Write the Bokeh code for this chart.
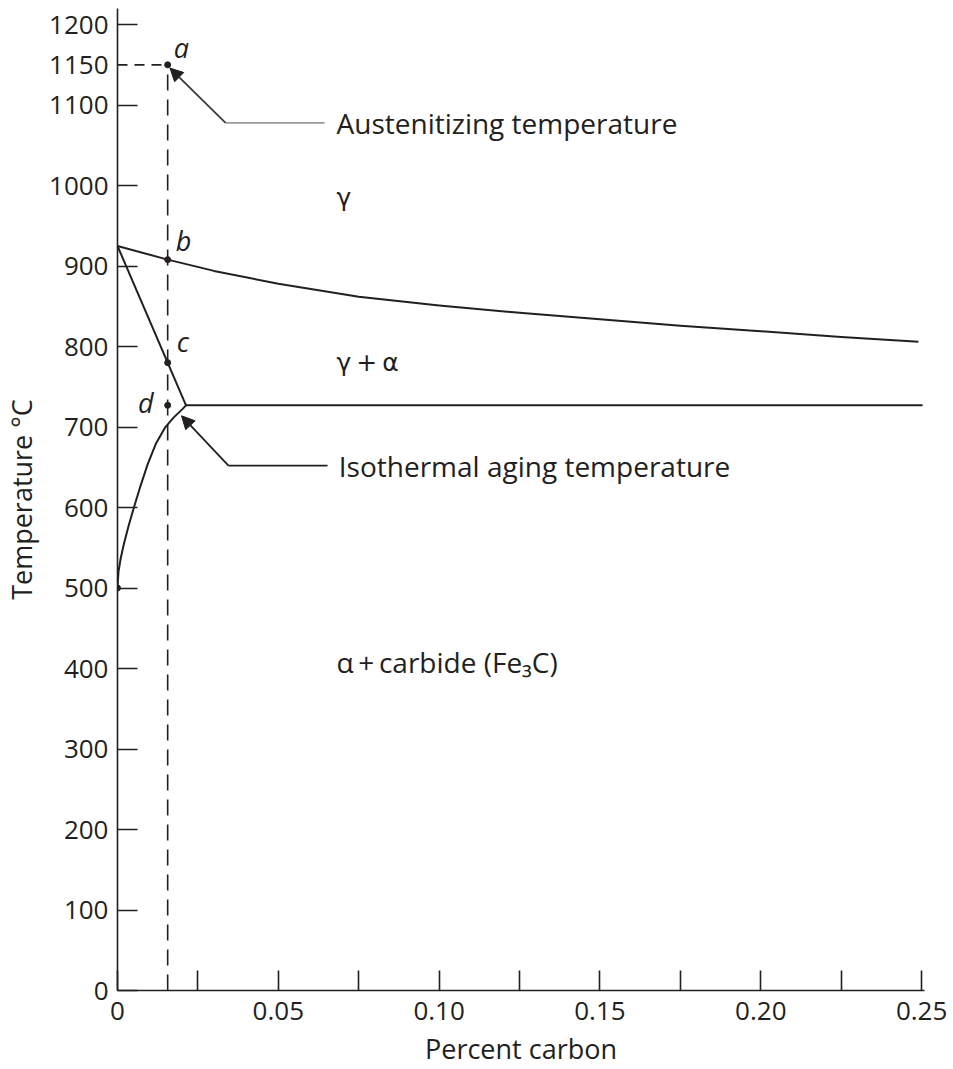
from bokeh.plotting import figure
from bokeh.models import FixedTicker, Arrow, NormalHead, Range1d
from bokeh.core.properties import value
from bokeh.embed import file_html
from bokeh.resources import INLINE

# --- phase boundaries (percent carbon, temperature in °C) ---
a3_upper_c = [0.0, 0.0156, 0.03, 0.05, 0.075, 0.10, 0.125, 0.15, 0.175, 0.20, 0.225, 0.249]
a3_upper_t = [925, 908, 894, 878, 862, 851, 842, 834, 826, 819, 812, 806]

a3_lower_c = [0.0, 0.0213]
a3_lower_t = [925, 727]

a1_c = [0.0213, 0.2503]
a1_t = [727, 727]

solvus_c = [0.0, 0.0003, 0.001, 0.002, 0.0035, 0.0051, 0.007, 0.0094, 0.012, 0.0149, 0.0175, 0.0201, 0.0213]
solvus_t = [500, 520, 537, 555, 578, 600, 625, 654, 680, 700, 712, 722, 727]

# --- heat-treatment path ---
alloy_c = 0.0156
austenitizing_t = 1150
point_names = ["a", "b", "c", "d"]
point_t = [1150, 908, 780, 727]
solvus_start = (0.0, 500)

# --- axis ticks ---
x_major = [0.0, 0.05, 0.10, 0.15, 0.20, 0.25]
x_major_labels = ["0", "0.05", "0.10", "0.15", "0.20", "0.25"]
x_minor = [0.025, 0.075, 0.125, 0.175, 0.225]
y_marks = [0, 100, 200, 300, 400, 500, 600, 700, 800, 900, 1000, 1100, 1200]
y_labels = [0, 100, 200, 300, 400, 500, 600, 700, 800, 900, 1000, 1100, 1150, 1200]

INK = "#231f20"
FONT = "Open Sans"
GREEK = "DejaVu Sans"

p = figure(width=953, height=1069,
           x_range=Range1d(0, 0.2509), y_range=Range1d(0, 1220),
           output_backend="svg", toolbar_location=None,
           min_border_left=117, min_border_right=29,
           min_border_top=8, min_border_bottom=79)
p.grid.visible = False
p.outline_line_color = None
p.background_fill_color = "white"

# x axis: labelled majors plus unlabelled half-steps, all pointing inward
p.xaxis.ticker = FixedTicker(ticks=x_major, minor_ticks=x_minor)
p.xaxis.major_label_overrides = {t: s for t, s in zip(x_major, x_major_labels)}
p.xaxis.axis_label = "Percent carbon"

# y axis: labels at every hundred plus 1150; tick marks only at the hundreds
p.yaxis.ticker = FixedTicker(ticks=y_labels, minor_ticks=y_marks)
p.yaxis.major_label_overrides = {t: str(t) for t in y_labels}
p.yaxis.axis_label = "Temperature °C"

for ax in (p.xaxis[0], p.yaxis[0]):
    ax.axis_line_color = INK
    ax.axis_line_width = 1.6
    ax.major_tick_out = 0
    ax.minor_tick_out = 0
    ax.minor_tick_in = 20
    ax.minor_tick_line_color = INK
    ax.minor_tick_line_width = 1.6
    ax.major_tick_line_color = INK
    ax.major_tick_line_width = 1.6
    ax.major_label_text_font = FONT
    ax.major_label_text_font_size = "26px"
    ax.major_label_text_color = INK
    ax.axis_label_text_font = FONT
    ax.axis_label_text_font_size = "27px"
    ax.axis_label_text_font_style = "normal"
    ax.axis_label_text_color = INK

p.xaxis.major_tick_in = 20
p.xaxis.major_label_standoff = 11
p.xaxis.axis_label_standoff = 7
p.yaxis.major_tick_in = 0
p.yaxis.major_label_standoff = 9
p.yaxis.axis_label_standoff = 6

# phase boundaries
for xs, ys in ((a3_upper_c, a3_upper_t), (a3_lower_c, a3_lower_t),
               (a1_c, a1_t), (solvus_c, solvus_t)):
    p.line(xs, ys, line_color=INK, line_width=2, line_join="round")

# dashed path of the alloy
p.line([0, alloy_c], [austenitizing_t, austenitizing_t],
       line_color=INK, line_width=1.6, line_dash="10 7")
p.line([alloy_c, alloy_c], [0, austenitizing_t],
       line_color=INK, line_width=1.6, line_dash="16 9")

p.scatter([alloy_c] * len(point_t), point_t, size=6, color=INK)
p.scatter([solvus_start[0]], [solvus_start[1]], size=6, color=INK)

# point letters
p.text(x=[0.0199, 0.0205, 0.0203, 0.0088], y=[1172, 932, 806, 730],
       text=point_names, text_font=value(FONT), text_font_size="27px",
       text_font_style="italic", text_color=INK,
       text_align="center", text_baseline="middle")

# phase-field labels
p.text(x=[0.0681, 0.0681], y=[985, 780],
       text=["γ", "γ\u2009+\u2009α"],
       text_font=value(GREEK), text_font_size="25px", text_color=INK,
       text_align="left", text_baseline="middle")
p.text(x=[0.0681], y=[408], text=["α\u2009+\u2009carbide (Fe₃C)"],
       text_font=value(FONT), text_font_size="28px", text_color=INK,
       text_align="left", text_baseline="middle")

# call-outs
p.text(x=[0.0681, 0.0688], y=[1078, 652],
       text=["Austenitizing temperature", "Isothermal aging temperature"],
       text_font=value(FONT), text_font_size="28px", text_color=INK,
       text_align="left", text_baseline="middle")

# leader for the austenitizing temperature
p.line([0.0336, 0.0644], [1078, 1078], line_color="#9a9a9a", line_width=1.8)
p.add_layout(Arrow(end=NormalHead(size=13, fill_color=INK, line_color=INK),
                   x_start=0.0336, y_start=1078, x_end=0.0163, y_end=1146,
                   line_color="#3a3a3a", line_width=1.8))

# leader for the isothermal aging temperature
p.line([0.0345, 0.0653], [652, 652], line_color=INK, line_width=1.8)
p.add_layout(Arrow(end=NormalHead(size=13, fill_color=INK, line_color=INK),
                   x_start=0.0345, y_start=652, x_end=0.0199, y_end=714,
                   line_color=INK, line_width=1.8))

open("out.html", "w").write(file_html(p, INLINE))
